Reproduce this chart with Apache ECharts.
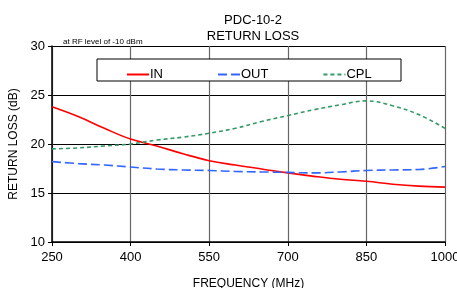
<!DOCTYPE html>
<html>
<head>
<meta charset="utf-8">
<script src="https://cdn.jsdelivr.net/npm/echarts@6/dist/echarts.min.js"></script>
<style>
  html, body { margin: 0; padding: 0; background: #fff; }
  #chart { width: 457px; height: 288px; }
</style>
</head>
<body>
<div id="chart"></div>
<script>
// frequency points (MHz)
var freq = [250, 300, 350, 400, 450, 500, 550, 600, 650, 700, 750, 800, 850, 900, 950, 1000];
// return loss values (dB)
var inLoss  = [23.8, 22.8, 21.6, 20.5, 19.8, 19.0, 18.3, 17.85, 17.45, 17.05, 16.7, 16.4, 16.2, 15.9, 15.7, 15.6];
var outLoss = [18.2, 18.0, 17.85, 17.65, 17.45, 17.35, 17.3, 17.2, 17.15, 17.1, 17.05, 17.15, 17.3, 17.35, 17.4, 17.7];
var cplLoss = [19.5, 19.6, 19.8, 20.0, 20.4, 20.7, 21.1, 21.6, 22.3, 22.9, 23.5, 24.0, 24.4, 23.9, 23.0, 21.6];
var xTicks = [250, 400, 550, 700, 850, 1000];
var yTicks = [10, 15, 20, 25, 30];

function pairs(vals) {
  return freq.map(function(f, i) { return [f, vals[i]]; });
}

var font = 'Liberation Sans, Arial, sans-serif';
var chart = echarts.init(document.getElementById('chart'));

var option = {
  animation: false,
  backgroundColor: '#fff',
  textStyle: { fontFamily: font },
  title: [{
    text: 'PDC-10-2\nRETURN LOSS',
    left: 248, top: 7, textAlign: 'center',
    textStyle: { fontSize: 13, fontWeight: 'normal', color: '#000', lineHeight: 16, fontFamily: font }
  }, {
    text: 'at RF level of -10 dBm',
    left: 58, top: 33,
    textStyle: { fontSize: 8, fontWeight: 'normal', color: '#000', fontFamily: font }
  }],
  grid: { left: 52, right: 12, top: 46, bottom: 46, containLabel: false, outerBoundsMode: 'none' },
  graphic: [{
    type: 'rect',
    shape: { x: 97, y: 59, width: 304, height: 22 },
    style: { fill: '#fff', stroke: '#000', lineWidth: 1 },
    z: 50
  }],
  legend: {
    left: 121, top: 63, itemGap: 54, itemWidth: 22, itemHeight: 10,
    z: 60,
    itemStyle: { opacity: 0 },
    textStyle: { fontSize: 13, color: '#000', fontFamily: font, padding: [0, 0, 0, -4] },
    data: ['IN', 'OUT', 'CPL']
  },
  xAxis: {
    type: 'value', min: 250, max: 1000, interval: 150,
    name: 'FREQUENCY (MHz)', nameLocation: 'middle', nameGap: 36,
    nameTextStyle: { fontSize: 12, color: '#000', fontFamily: font },
    axisLine: { lineStyle: { color: '#000', width: 1.5 } },
    axisTick: { show: true, length: 4, lineStyle: { color: '#000' } },
    axisLabel: { fontSize: 13, color: '#000', margin: 9, fontFamily: font,
      formatter: function(v) { return String(v); } },
    splitLine: { lineStyle: { color: '#666', width: 1.2 } }
  },
  yAxis: {
    type: 'value', min: 10, max: 30, interval: 5,
    name: 'RETURN LOSS (dB)', nameLocation: 'middle', nameGap: 31,
    nameTextStyle: { fontSize: 12, color: '#000', fontFamily: font },
    axisLine: { show: true, lineStyle: { color: '#000', width: 1.5 } },
    axisTick: { show: true, length: 4, lineStyle: { color: '#000' } },
    axisLabel: { fontSize: 13, color: '#000', margin: 7, fontFamily: font },
    splitLine: { lineStyle: { color: '#000', width: 1 } }
  },
  series: [{
    name: 'IN', type: 'line', smooth: 0.4, symbol: 'none',
    data: pairs(inLoss),
    lineStyle: { color: '#ff0000', width: 1.6 },
    itemStyle: { color: '#ff0000' }
  }, {
    name: 'OUT', type: 'line', smooth: 0.4, symbol: 'none',
    data: pairs(outLoss),
    lineStyle: { color: '#3366ff', width: 1.6, type: [9, 4] },
    itemStyle: { color: '#3366ff' }
  }, {
    name: 'CPL', type: 'line', smooth: 0.4, symbol: 'none',
    data: pairs(cplLoss),
    lineStyle: { color: '#339966', width: 1.6, type: [4, 3] },
    itemStyle: { color: '#339966' }
  }]
};

chart.setOption(option);
</script>
</body>
</html>
